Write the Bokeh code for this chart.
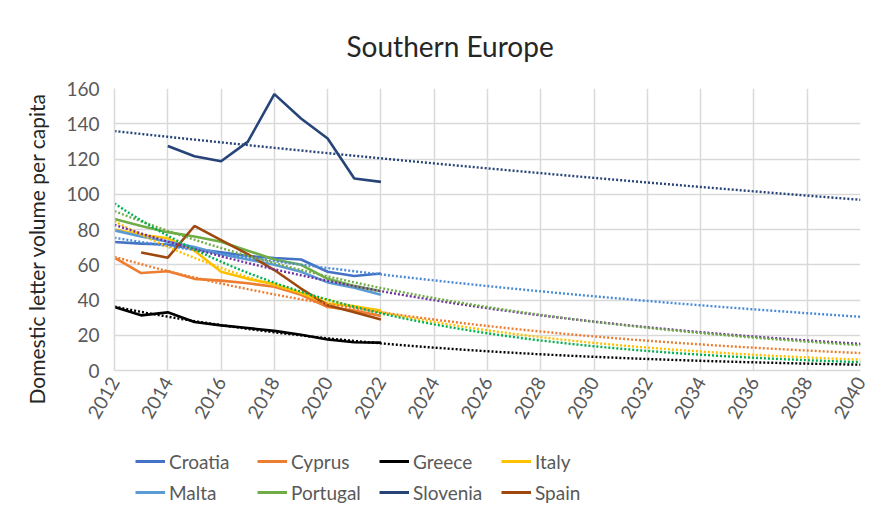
import math
import numpy as np
from bokeh.plotting import figure
from bokeh.layouts import column
from bokeh.models import (Range1d, SingleIntervalTicker, Legend, LegendItem, Title)
from bokeh.embed import file_html
from bokeh.resources import INLINE

years = [2012, 2013, 2014, 2015, 2016, 2017, 2018, 2019, 2020, 2021, 2022]
nan = float("nan")

croatia  = [72.9, 72.0, 71.5, 69.0, 67.0, 65.0, 63.8, 63.0, 56.0, 53.6, 55.0]
cyprus   = [64.0, 55.3, 56.3, 52.0, 51.0, 49.5, 47.5, 43.0, 36.0, 34.0, 31.0]
greece   = [36.0, 31.3, 33.0, 27.5, 25.6, 24.1, 22.5, 20.3, 17.6, 16.0, 15.8]
italy    = [80.0, 77.0, 75.0, 68.0, 56.0, 52.0, 49.0, 44.0, 38.0, 36.5, 34.0]
malta    = [79.5, 76.0, 73.0, 70.0, 66.0, 63.0, 60.0, 56.0, 50.0, 47.0, 43.0]
portugal = [86.0, 82.0, 78.5, 76.0, 73.0, 68.0, 63.0, 60.0, 52.0, 48.0, 45.0]
slovenia = [nan, nan, 127.4, 121.6, 118.7, 129.7, 156.8, 143.0, 131.6, 108.9, 107.0]
spain    = [nan, 67.0, 64.0, 82.0, 74.0, 66.0, 57.0, 46.5, 37.0, 33.0, 29.0]

names = ["Croatia", "Cyprus", "Greece", "Italy", "Malta", "Portugal", "Slovenia", "Spain"]
series = [croatia, cyprus, greece, italy, malta, portugal, slovenia, spain]
colors = ["#4472C4", "#ED7D31", "#000000", "#FFC000", "#5B9BD5", "#70AD47", "#264478", "#9E480E"]
trend_colors = ["#4A8AD6", "#ED7D31", "#000000", "#FFC000", "#7030A0", "#70AD47", "#264478", "#00B050"]

x_start, x_end = 2012, 2040
FONT = "Lato"
GREY = "#595959"
GRID = "#D9D9D9"

p = figure(width=878, height=432, output_backend="svg", toolbar_location=None,
           x_range=Range1d(x_start, x_end), y_range=Range1d(0, 160),
           min_border_left=114, min_border_right=18, min_border_top=88,
           min_border_bottom=62)
p.outline_line_color = None
p.background_fill_color = "white"
p.border_fill_color = "white"

p.title.text = "Southern Europe"
p.title.text_font = FONT
p.title.text_font_size = "28px"
p.title.text_font_style = "normal"
p.title.text_color = "#262626"
p.title.align = "left"
p.title.offset = 232
p.title.standoff = 52

p.xaxis.ticker = SingleIntervalTicker(interval=2)
p.yaxis.ticker = SingleIntervalTicker(interval=20)
p.xgrid.ticker = SingleIntervalTicker(interval=2)
for g in (p.xgrid[0], p.ygrid[0]):
    g.grid_line_color = GRID
    g.grid_line_width = 1.5

for ax in (p.xaxis[0], p.yaxis[0]):
    ax.axis_line_color = GRID
    ax.axis_line_width = 1.5
    ax.major_tick_line_color = None
    ax.minor_tick_line_color = None
    ax.major_tick_out = 0
    ax.major_tick_in = 0
    ax.major_label_text_font = FONT
    ax.major_label_text_font_size = "19px"
    ax.major_label_text_color = GREY

p.yaxis.major_label_standoff = 11
p.xaxis.major_label_orientation = math.pi / 3
p.xaxis.major_label_standoff = 4

ylab = Title(text="Domestic letter volume per capita", align="left",
             text_font=FONT, text_font_size="21px", text_font_style="normal",
             text_color="#262626", offset=-34, standoff=29)
p.add_layout(ylab, "left")

for vals, col in zip(series, colors):
    p.line(years, vals, line_color=col, line_width=2.6)

fit_x = np.linspace(x_start, x_end, 141)
for vals, col in zip(series, trend_colors):
    arr = np.array(vals, dtype=float)
    yrs = np.array(years, dtype=float)
    m = ~np.isnan(arr)
    b, a = np.polyfit(yrs[m], np.log(arr[m]), 1)
    p.line(fit_x, np.exp(a + b * fit_x), line_color=col, line_width=2.4,
           line_dash="2 2")

# legend panel below the chart (its ranges keep the series themselves out of view)
p2 = figure(width=878, height=91, output_backend="svg", toolbar_location=None,
            x_range=Range1d(0, 1), y_range=Range1d(0, 1), min_border=0)
p2.axis.visible = False
p2.grid.visible = False
p2.outline_line_color = None
p2.background_fill_color = "white"
p2.border_fill_color = "white"

items = []
for name, vals, col in zip(names, series, colors):
    r = p2.line(years, vals, line_color=col, line_width=3)
    items.append(LegendItem(label=name, renderers=[r]))

legend = Legend(items=items, ncols=4, location=(21, 19))
legend.orientation = "horizontal"
legend.label_text_font = FONT
legend.label_text_font_size = "19px"
legend.label_text_color = GREY
legend.glyph_width = 30
legend.glyph_height = 24
legend.label_height = 24
legend.label_width = 81
legend.label_standoff = 4
legend.spacing = 7
legend.padding = 0
legend.margin = 0
legend.border_line_color = None
legend.background_fill_alpha = 0
p2.add_layout(legend, "center")

open("out.html", "w").write(file_html(column(p, p2), INLINE))
